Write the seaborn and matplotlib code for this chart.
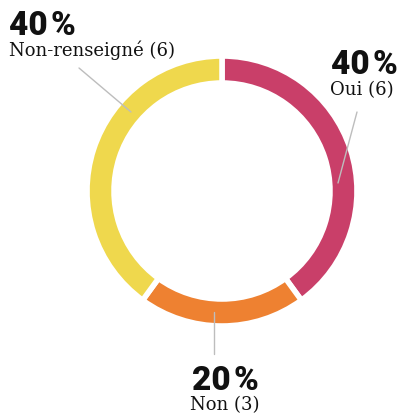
import numpy as np
import seaborn as sns
import matplotlib.pyplot as plt

# Data
labels = ['Oui', 'Non', 'Non-renseigné']
counts = [6, 3, 6]
colors = ['#C93F69', '#EE8131', '#EFD84D']

sns.set_theme(style='white')

fig = plt.figure(figsize=(4.0, 4.13), dpi=100)
ax = fig.add_axes([0, 0, 1, 1])

H = 413
cx, cy = 222, H - 191
R, W = 135, 27

ax.pie(counts, colors=colors, startangle=90, counterclock=False,
       center=(cx, cy), radius=R,
       wedgeprops=dict(width=W, edgecolor='white', linewidth=4))
ax.set_xlim(0, 400)
ax.set_ylim(0, H)
ax.set_aspect('equal')
ax.axis('off')

total = sum(counts)
pcts = [f"{round(c / total * 100)}\u200a%" for c in counts]

# label placement (pixels from top-left, baselines): pct, name, alignment, leader line
place = {
    'Oui': dict(pct=(398, 74), name=(394, 95), ha='right',
                line=((357, 112), (338, 183))),
    'Non': dict(pct=(225, 390), name=(225, 410), ha='center',
                line=((214, 312), (214, 354))),
    'Non-renseigné': dict(pct=(9, 35), name=(9, 56), ha='left',
                          line=((79, 68), (131, 112))),
}

for lab, c, p in zip(labels, counts, pcts):
    d = place[lab]
    (x0, y0), (x1, y1) = d['line']
    ax.plot([x0, x1], [H - y0, H - y1], color='#bdbdbd', lw=1, zorder=5)
    ax.text(d['pct'][0], H - d['pct'][1], p, ha=d['ha'], va='baseline',
            fontsize=24, fontweight='heavy', family=['Roboto', 'DejaVu Sans'],
            color='#111111')
    ax.text(d['name'][0], H - d['name'][1], f"{lab} ({c})", ha=d['ha'],
            va='baseline', fontsize=13, family='DejaVu Serif', color='#111111')

fig.savefig('out.png', dpi=100, facecolor='white')
